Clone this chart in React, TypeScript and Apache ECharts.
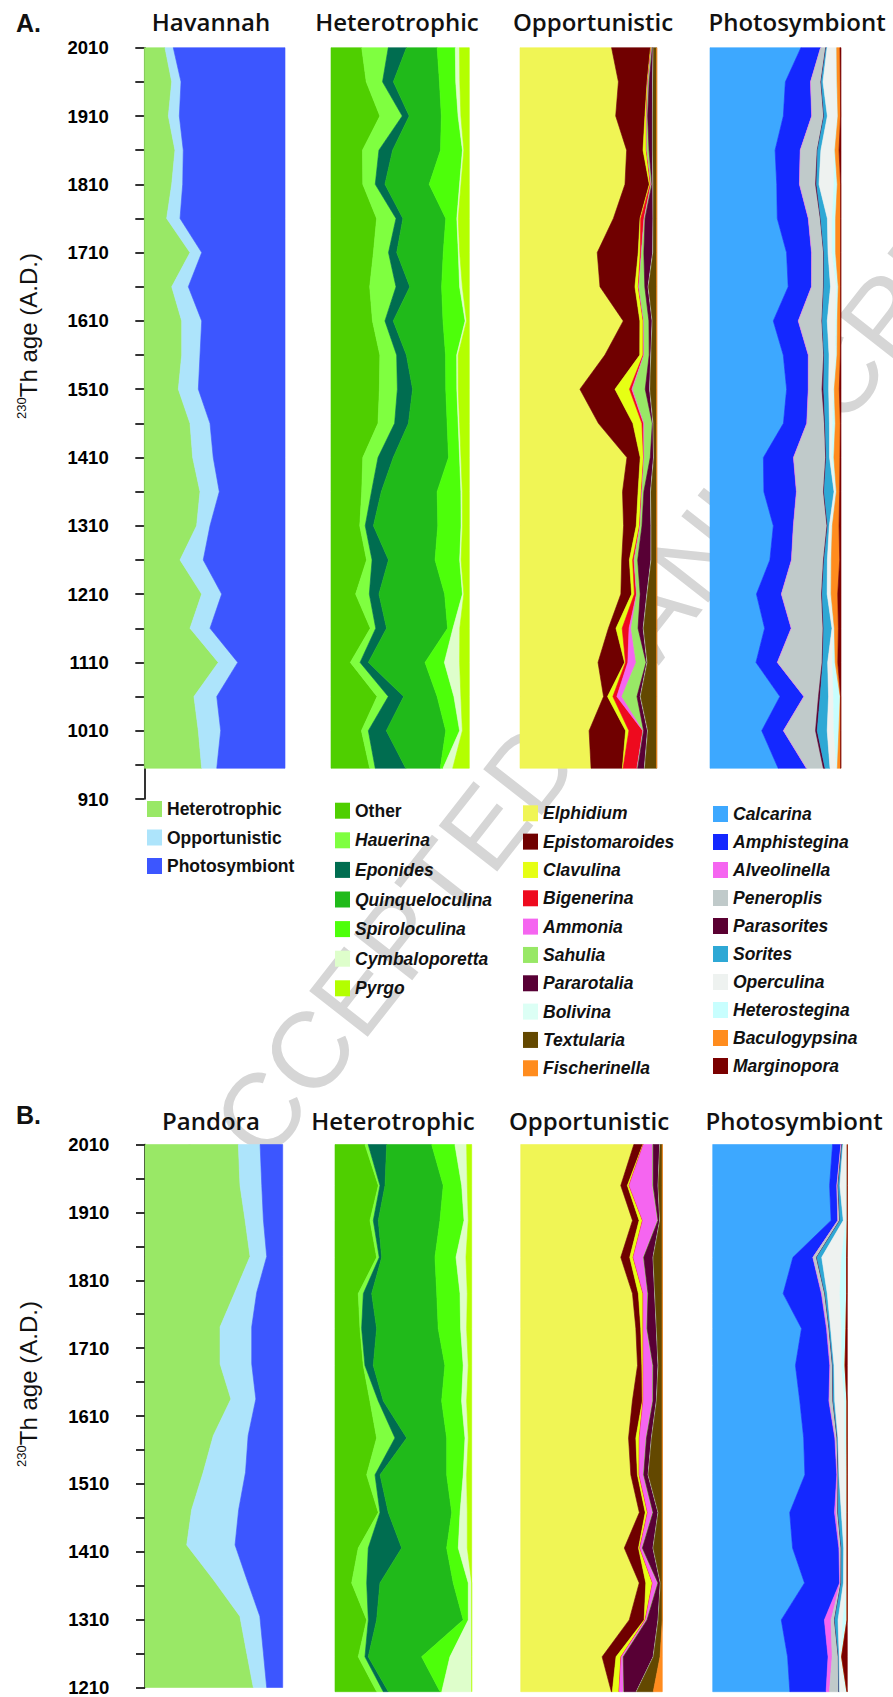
import React, { useEffect, useRef } from 'react';
import * as echarts from 'echarts';

// ---------- sample ages (A.D.) ----------
const agesA = [2010, 1960, 1910, 1860, 1810, 1760, 1710, 1660, 1610, 1560, 1510, 1460, 1410, 1360, 1310, 1260, 1210, 1160, 1110, 1060, 1010, 955];
const agesB = [2010, 1950, 1899, 1845, 1792, 1741, 1687, 1635, 1581, 1527, 1472, 1420, 1369, 1315, 1261, 1210];

// ---------- tick labels / titles ----------
const yTicksA = [910, 2010, 100];
const yTicksB = [1210, 2010, 100];
const titlesA = ['Havannah', 'Heterotrophic', 'Opportunistic', 'Photosymbiont'];
const titlesB = ['Pandora', 'Heterotrophic', 'Opportunistic', 'Photosymbiont'];

// ---------- taxa ----------
const groupTaxa = ['Heterotrophic', 'Opportunistic', 'Photosymbiont'];
const hetTaxa = ['Other', 'Hauerina', 'Eponides', 'Quinqueloculina', 'Spiroloculina', 'Cymbaloporetta', 'Pyrgo'];
const oppTaxa = ['Elphidium', 'Epistomaroides', 'Clavulina', 'Bigenerina', 'Ammonia', 'Sahulia', 'Pararotalia', 'Bolivina', 'Textularia', 'Fischerinella'];
const photoTaxa = ['Calcarina', 'Amphistegina', 'Alveolinella', 'Peneroplis', 'Parasorites', 'Sorites', 'Operculina', 'Heterostegina', 'Baculogypsina', 'Marginopora'];

const groupColors = ['#99e866', '#ade4fb', '#3c56ff'];
const hetColors = ['#4fcf00', '#7fff40', '#006d50', '#20ba1a', '#4dff0a', '#defecb', '#b3ff00'];
const oppColors = ['#f0f555', '#700000', '#e6ff14', '#ee0a1e', '#f565f0', '#98e866', '#580035', '#dcfff5', '#634800', '#ff8c1e'];
const photoColors = ['#3da8ff', '#1428ff', '#f565f0', '#c0caca', '#5a0032', '#2ea8d5', '#eef2f0', '#c8fefe', '#ff8c1e', '#7a0000'];

const watermark = 'ACCEPTED MANUSCRIPT';

// ---------- relative abundances (%), one row per sample age ----------
// Panel A: Havannah  [Heterotrophic, Opportunistic, Photosymbiont]
const havannahRows = [
  [14.7, 5.9, 79.4], [19.5, 6.6, 73.9], [17.1, 7.8, 75.1], [21.8, 5.9, 72.3], [19.5, 7.8, 72.7],
  [15.9, 9.5, 74.6], [32.5, 8.3, 59.2], [19.5, 11.8, 68.7], [26.6, 14.2, 59.2], [26.6, 13.0, 60.4],
  [24.2, 14.2, 61.6], [32.5, 14.2, 53.3], [34.4, 14.6, 51.0], [39.6, 13.7, 46.7], [37.2, 9.5, 53.3],
  [25.4, 16.5, 58.1], [40.8, 14.2, 45.0], [32.5, 14.2, 53.3], [52.6, 13.8, 33.6], [35.3, 16.2, 48.5],
  [38.4, 15.9, 45.7], [40.8, 10.7, 48.5],
];
// Panel A heterotrophic taxa
const hetRowsA = [
  [22, 19, 13, 22, 13, 3, 7], [26, 12, 8, 34, 12, 3, 7], [35, 16, 5, 23, 12, 2, 6], [23, 12, 10, 35, 16, 1, 4],
  [23, 9, 7, 32, 22, 1, 6], [33, 14, 5, 31, 8, 1, 8], [31, 11, 6, 34, 11, 1, 7], [28, 19, 10, 23, 13, 2, 5],
  [30, 9, 6, 36, 16, 1, 2], [35, 12, 7, 28, 8, 1, 8], [35, 13, 11, 24, 8, 1, 8], [34, 12, 10, 28, 8, 1, 7],
  [23, 11, 11, 40, 8, 1, 6], [22, 7, 7, 40, 17, 1, 5], [21, 4, 6, 47, 17, 1, 5], [26, 4, 12, 34, 18, 1, 6],
  [18, 10, 7, 48, 13, 1, 4], [29, 4, 8, 45, 4, 5, 7], [14, 7, 6, 41, 14, 11, 7], [33, 8, 11, 24, 12, 5, 6],
  [22, 5, 13, 43, 10, 2, 5], [28, 4, 22, 25, 2, 7, 12],
];
// Panel A opportunistic taxa
const oppRowsA = [
  [67, 28.5, 0.4, 0.2, 0.2, 0.5, 0.6, 0.2, 2.4, 0],
  [72, 21, 0.4, 0.2, 0.2, 0.7, 2.5, 0.3, 2.7, 0],
  [70, 21.4, 1, 0.3, 0.2, 0.5, 3.5, 0.3, 2.8, 0],
  [78, 12, 2.4, 0.3, 0.2, 1.5, 2.5, 0.3, 2.8, 0],
  [76.8, 17.8, 0.7, 0.5, 0.2, 0.5, 0.7, 0.3, 2.5, 0],
  [68.3, 19.5, 0.5, 2.4, 0.3, 0.5, 5.8, 0.2, 2.5, 0],
  [56.5, 30, 1.5, 0.8, 0.3, 1.5, 6.5, 0.3, 2.6, 0],
  [58.5, 25.6, 2.4, 0.3, 0.3, 4.2, 2.4, 0.3, 6, 0],
  [75.6, 12.2, 2.4, 0.3, 0.2, 3.7, 2.4, 0.2, 3.1, 0],
  [62.2, 25.6, 2.4, 0.5, 0.3, 3.7, 1.2, 0.3, 4, 0],
  [43.4, 25.4, 10.5, 1.7, 0.7, 9, 3.2, 0.3, 4.8, 0],
  [57.3, 25.2, 6.6, 1.2, 0.5, 5.9, 0.5, 0.3, 2.4, 0],
  [78, 9.7, 2.4, 0.3, 0.2, 4.4, 2.4, 0.3, 2, 0],
  [75, 11.4, 2.4, 0.3, 0.3, 1.2, 4.9, 0.3, 4.2, 0],
  [76, 9.3, 2.4, 0.3, 0.3, 1.2, 6.6, 0.3, 3.9, 0],
  [74.4, 5.6, 2.4, 1, 0.3, 2.4, 9.7, 0.3, 3.9, 0],
  [73.2, 7.8, 2, 1.5, 0.3, 2.4, 4.9, 0.3, 6.8, 0],
  [63, 5.4, 4.4, 4.9, 1.5, 4.9, 3.7, 0.3, 9.3, 0],
  [57.3, 19.5, 0.7, 1.7, 6.1, 7.3, 0.7, 0.3, 6.8, 0],
  [61, 2.9, 3.9, 2.9, 3.7, 11, 2.4, 0.3, 11.7, 0],
  [50.7, 26.8, 2.4, 10.2, 0.3, 0.3, 2.9, 0.3, 6.4, 0],
  [52.4, 23.1, 0.5, 10.2, 0.3, 0.3, 4.9, 0.3, 8.8, 0],
];
// Panel A photosymbiont taxa
const photoRowsA = [
  [70, 15.3, 0, 3.8, 0.3, 0.8, 6.9, 0.5, 2.5, 0.8],
  [57.3, 19.1, 0.3, 7.6, 0.3, 1.3, 10.2, 0.5, 2.5, 0.5],
  [56, 21.6, 0.3, 8.9, 0.3, 2.5, 7.6, 0.5, 2, 0.3],
  [49.6, 19.1, 0.3, 12.7, 0.3, 2.5, 10.2, 0.5, 3.1, 1.5],
  [50.9, 17.3, 0.3, 12, 0.8, 1.8, 11.5, 2.5, 2.5, 0.3],
  [51.4, 23.7, 0.3, 8.9, 0.3, 5.1, 3.8, 2.5, 3.8, 0.3],
  [58.5, 19.1, 0.3, 8.9, 0.3, 3.1, 3.3, 2.5, 3.8, 0.3],
  [59.8, 17.8, 0.3, 8.9, 0.3, 5.1, 4.6, 1.3, 1.8, 0.3],
  [48.4, 19.1, 0.3, 17.8, 0.3, 3.8, 6.4, 1.3, 2.5, 0.3],
  [56, 19.1, 0.3, 11.5, 0.3, 3.8, 5.1, 1, 2.5, 0.5],
  [58.5, 16.5, 0.3, 10.2, 1.3, 3.8, 3.8, 0.5, 3.8, 1.3],
  [56, 17.8, 0.3, 13.2, 0.5, 3.3, 2.5, 2, 3.8, 0.5],
  [40.7, 22.9, 0.3, 24.2, 0.5, 2.5, 1.8, 1.5, 4.6, 0.8],
  [41.2, 24.9, 0.3, 20.4, 0.5, 7.6, 1.3, 0.5, 2.5, 1],
  [48.4, 15.3, 0.3, 25.4, 0.5, 1.3, 1.8, 0.5, 5.1, 1.5],
  [45.8, 16.5, 0.3, 24.2, 0.5, 2.5, 2.5, 0.5, 6.4, 1],
  [35.6, 19.1, 0.3, 30.5, 0.5, 3.8, 2.5, 0.5, 5.1, 2.5],
  [42, 20.4, 0.3, 24.2, 0.5, 6.4, 1.3, 0.5, 3.1, 2],
  [35.6, 16.5, 0.3, 34.4, 0.5, 3.8, 3.8, 2, 2, 2.5],
  [53.4, 18.3, 0.3, 10.9, 1.3, 6.4, 3.8, 5.1, 0.3, 0.3],
  [39.4, 16.5, 0.3, 24.2, 1.3, 7.6, 5.1, 3.8, 1.3, 0.3],
  [52.2, 21.6, 0.3, 12.7, 1.3, 3.8, 5.1, 0.5, 2.5, 0.3],
];

// Panel B: Pandora [Heterotrophic, Opportunistic, Photosymbiont]
const pandoraRows = [
  [67.8, 15.8, 16.4], [69.0, 15.8, 15.2], [72.6, 13.3, 14.0], [76.3, 12.1, 11.6], [65.3, 15.9, 18.9],
  [54.5, 23.0, 22.5], [54.5, 23.0, 22.5], [62.4, 18.1, 19.5], [49.6, 25.3, 25.1], [42.3, 30.7, 27.0],
  [33.9, 34.2, 32.0], [30.3, 35.1, 34.6], [49.6, 24.4, 26.0], [68.9, 14.5, 16.6], [73.8, 12.1, 14.0],
  [78.6, 9.7, 11.6],
];
const hetRowsB = [
  [21.9, 2.4, 13.5, 32.9, 17, 8.6, 3.7], [31.7, 1.2, 3.7, 42.6, 13.5, 4.1, 3.2], [25.6, 2.4, 3.7, 45.1, 17.6, 3.1, 2.5],
  [30.5, 1.9, 1.8, 39, 15.4, 7.3, 4.2], [17, 3.7, 6.1, 47.5, 17, 5.3, 3.2], [18.3, 1.2, 11, 45.1, 16.4, 4.4, 3.7],
  [20.7, 1.2, 6.1, 52.4, 13.4, 3.7, 2.5], [25.6, 6.1, 3.7, 42.7, 14.6, 3.7, 3.7], [30.5, 13.4, 8.6, 29.3, 13.4, 2.4, 2.5],
  [23.2, 6.1, 3.7, 48.8, 12.1, 2.5, 3.7], [31.7, 1.2, 6.1, 46.4, 6.1, 5.3, 3.2], [17, 7.3, 24.4, 32.9, 8.5, 6.6, 3.2],
  [12.2, 11, 9.7, 53.6, 11, 2.5, 0], [23.2, 1.2, 6.1, 63.4, 3.7, 2.5, 0], [17, 4.9, 2.4, 39, 20.7, 15.9, 0],
  [30.5, 4.8, 3.7, 37.8, 1.2, 21.9, 0],
];
const oppRowsB = [
  [80.7, 6.4, 0.3, 0.2, 6.6, 0.3, 4.7, 0.2, 1.6, 0],
  [71.3, 4.7, 1.2, 0.2, 16.5, 0.5, 3.5, 0.2, 2.8, 0],
  [79.5, 4.7, 2.4, 0.2, 10.6, 0.3, 1.2, 0.2, 1.6, 0],
  [71.3, 6.4, 2.4, 0.2, 7.1, 0.3, 6.6, 0.2, 6.4, 0],
  [79.5, 4.2, 3.3, 0.2, 3.1, 0.3, 4.7, 0.2, 5.2, 0],
  [81.9, 3.5, 1.6, 0.2, 2.4, 0.3, 6.6, 0.2, 4, 0],
  [83, 3.1, 0.9, 0.2, 6.6, 0.3, 3.5, 0.2, 2.8, 0],
  [79.5, 7.1, 0.5, 0.2, 6.6, 0.3, 2.4, 0.2, 4, 0],
  [76.7, 5.2, 2.4, 0.2, 4.7, 0.3, 3.5, 0.2, 7.5, 0],
  [78.4, 4.7, 1.2, 0.2, 2.8, 0.3, 3.1, 0.2, 9.9, 0],
  [84.2, 4.2, 1.6, 0.2, 3.5, 0.3, 3.5, 0.2, 2.8, 0],
  [73.6, 10.1, 0.9, 0.2, 1.4, 0.3, 7.5, 0.2, 6.4, 0],
  [84.2, 4.7, 4.7, 0.2, 3.5, 0.3, 1.6, 0.2, 1.2, 0],
  [77.2, 10.6, 0.7, 0.2, 0.9, 0.3, 7.8, 0.2, 2.8, 0],
  [57.9, 9.9, 3.5, 0.2, 1.2, 0.3, 21.2, 0.2, 4.7, 1.6],
  [64.2, 0.7, 4.7, 0.2, 3.1, 0.3, 8.7, 0.2, 11.8, 6.4],
];
const photoRowsB = [
  [89.6, 6.2, 0.2, 0.5, 0.2, 0.7, 3, 0.2, 0, 0],
  [87.1, 5.4, 0.2, 0.7, 0.2, 1.2, 4.5, 1, 0, 0],
  [88.4, 5, 0.2, 1.2, 0.2, 2.5, 2, 1, 0, 0],
  [59.9, 14.9, 0.2, 2.5, 0.2, 3.7, 14.9, 3.7, 0, 0.5],
  [52.5, 28.5, 0.5, 2, 0.2, 1.7, 9.4, 5, 0, 0.5],
  [66.1, 18.6, 0.7, 1.2, 0.2, 1, 8.2, 3.2, 0, 1],
  [61.9, 25.7, 0.5, 1.5, 0.2, 1, 5.7, 2.5, 0, 1.7],
  [65.3, 21.8, 0.5, 2.5, 0.2, 1.2, 7.4, 1.7, 0, 0.3],
  [68.6, 23.5, 0.5, 1.2, 0.2, 0.5, 5, 1.7, 0, 0.3],
  [69.3, 24, 0.5, 0.5, 0.2, 0.5, 5, 1, 0, 0.2],
  [57.4, 33.4, 1.2, 1.2, 0.2, 2.5, 3.2, 1, 0, 0.2],
  [59.9, 34.7, 0.5, 1.2, 0.2, 1.7, 2, 0.5, 0, 0.2],
  [69.3, 26.5, 0.5, 0.5, 0.2, 1.7, 2.5, 0.2, 0, 0.2],
  [51.2, 32.2, 5, 2.5, 0.2, 2.5, 3.7, 3, 0, 0.2],
  [54.9, 29.7, 3, 4.5, 0.2, 0.5, 1.2, 0.5, 0, 4.2],
  [57.9, 27.2, 2.5, 6.9, 0.2, 0.5, 4.5, 1, 0, 0.3],
];

// ---------- layout ----------
const FONT = '"Liberation Sans", Arial, Helvetica, sans-serif';
const TFONT = '"Open Sans", "Liberation Sans", Arial, sans-serif';
const colsA = [[144.3, 140.7], [331, 138.3], [520, 136.7], [710, 131]];
const colsB = [[145, 137.7], [335, 136.7], [520.7, 141.6], [712.7, 134.6]];
const panelA = { top: 47.7, height: 751.3 };
const panelB = { top: 1144.5, height: 547.2 };

function toPercent(rows: number[][]) {
  return rows.map((r) => {
    const s = r.reduce((a, b) => a + b, 0);
    return r.map((v) => (v / s) * 100);
  });
}

function stackSeries(rows: number[][], ages: number[], colors: string[], idx: number) {
  const pct = toPercent(rows);
  return {
    type: 'custom',
    coordinateSystem: 'cartesian2d',
    xAxisIndex: idx,
    yAxisIndex: idx,
    silent: true,
    z: 2,
    data: colors.map((_, k) => [0, ages[0], k]),
    renderItem: (_p: any, api: any) => {
      const k = api.value(2);
      const upper: number[][] = [];
      const lower: number[][] = [];
      for (let i = 0; i < ages.length; i++) {
        let lo = 0;
        for (let j = 0; j < k; j++) lo += pct[i][j];
        upper.push(api.coord([lo + pct[i][k], ages[i]]));
        lower.push(api.coord([lo, ages[i]]));
      }
      const pts = upper.concat(lower.reverse());
      return {
        type: 'polygon',
        shape: { points: pts },
        style: { fill: colors[k], stroke: colors[k], lineWidth: 0.6 },
      };
    },
  };
}

function yAxisVisible(grid: number, ticks: number[]) {
  return {
    type: 'value', gridIndex: grid, min: ticks[0], max: ticks[1], interval: ticks[2],
    position: 'left', offset: 16.6,
    axisLine: { show: true, lineStyle: { color: '#000', width: 1.6 } },
    axisTick: { show: true, length: 9, lineStyle: { color: '#000', width: 1.6 } },
    minorTick: { show: true, splitNumber: 2, length: 9, lineStyle: { color: '#000', width: 1.6 } },
    axisLabel: {
      margin: 19, color: '#000', fontFamily: FONT, fontWeight: 'bold', fontSize: 18.5,
      showMinLabel: true, showMaxLabel: true, formatter: (v: number) => String(v),
    },
    splitLine: { show: false }, minorSplitLine: { show: false },
  };
}
function yAxisHidden(grid: number, ticks: number[]) {
  return { type: 'value', gridIndex: grid, min: ticks[0], max: ticks[1], show: false, splitLine: { show: false } };
}

function txt(x: number, y: number, text: string, font: string, align = 'left', extra: any = {}) {
  return {
    type: 'text', x, y, z: 10, ...extra,
    style: { text, font, fill: '#111', align, textAlign: align, verticalAlign: 'middle', textVerticalAlign: 'middle' },
  };
}

function legend(names: string[], colors: string[], x0: number, y0: number, dy: number, italic: boolean) {
  const out: any[] = [];
  names.forEach((n, i) => {
    const y = y0 + i * dy;
    out.push({ type: 'rect', z: 10, shape: { x: x0, y: y - 8, width: 15, height: 16 }, style: { fill: colors[i] } });
    const it = italic && n !== 'Other' ? 'italic ' : '';
    out.push(txt(x0 + 20, y, n, `${it}bold 17.5px ${FONT}`));
  });
  return out;
}

function yName(y: number) {
  return {
    type: 'text', x: 28, y, z: 10, rotation: Math.PI / 2,
    style: {
      text: '{s|230}{m|Th age (A.D.)}',
      align: 'center', textAlign: 'center', verticalAlign: 'middle', textVerticalAlign: 'middle',
      rich: {
        s: { fontSize: 13, fontFamily: FONT, fill: '#111', verticalAlign: 'top', lineHeight: 26 },
        m: { fontSize: 24, fontFamily: FONT, fill: '#111', lineHeight: 26 },
      },
    },
  };
}

function buildOption() {
  const grids: any[] = [];
  const xAxes: any[] = [];
  const yAxes: any[] = [];
  colsA.forEach(([l, w], i) => {
    grids.push({ left: l, top: panelA.top, width: w, height: panelA.height });
    xAxes.push({ type: 'value', gridIndex: i, min: 0, max: 100, show: false });
    yAxes.push(i === 0 ? yAxisVisible(i, yTicksA) : yAxisHidden(i, yTicksA));
  });
  colsB.forEach(([l, w], i) => {
    const g = i + 4;
    grids.push({ left: l, top: panelB.top, width: w, height: panelB.height });
    xAxes.push({ type: 'value', gridIndex: g, min: 0, max: 100, show: false });
    yAxes.push(i === 0 ? yAxisVisible(g, yTicksB) : yAxisHidden(g, yTicksB));
  });

  const series = [
    stackSeries(havannahRows, agesA, groupColors, 0),
    stackSeries(hetRowsA, agesA, hetColors, 1),
    stackSeries(oppRowsA, agesA, oppColors, 2),
    stackSeries(photoRowsA, agesA, photoColors, 3),
    stackSeries(pandoraRows, agesB, groupColors, 4),
    stackSeries(hetRowsB, agesB, hetColors, 5),
    stackSeries(oppRowsB, agesB, oppColors, 6),
    stackSeries(photoRowsB, agesB, photoColors, 7),
  ];

  const titleCx = [211, 397, 593, 797];
  const titleCxB = [211, 393, 589, 794];
  const graphic: any[] = [
    {
      type: 'text', x: 603, y: 676, z: -5, rotation: 0.906, silent: true,
      style: {
        text: watermark, font: `108px ${FONT}`, fill: '#d6d6d6',
        align: 'center', textAlign: 'center', verticalAlign: 'middle', textVerticalAlign: 'middle',
      },
    },
    txt(16, 23, 'A.', `bold 25px ${FONT}`),
    txt(16, 1114.5, 'B.', `bold 25px ${FONT}`),
    ...titlesA.map((t, i) => txt(titleCx[i], 21, t, `600 24px ${TFONT}`, 'center')),
    ...titlesB.map((t, i) => txt(titleCxB[i], 1120.5, t, `600 24px ${TFONT}`, 'center')),
    yName(336),
    yName(1384),
    ...legend(groupTaxa, groupColors, 147, 809, 28.5, false),
    ...legend(hetTaxa, hetColors, 335, 810.7, 29.6, true),
    ...legend(oppTaxa, oppColors, 523, 813.3, 28.33, true),
    ...legend(photoTaxa, photoColors, 713, 814, 28.0, true),
  ];

  return { animation: false, backgroundColor: '#fff', grid: grids, xAxis: xAxes, yAxis: yAxes, series, graphic };
}

export default function App() {
  const ref = useRef<HTMLDivElement>(null);
  useEffect(() => {
    document.body.style.margin = '0';
    document.body.style.overflow = 'hidden';
    const chart = echarts.init(ref.current as HTMLDivElement, null, { renderer: 'svg' });
    chart.setOption(buildOption() as any);
    return () => chart.dispose();
  }, []);
  return <div ref={ref} style={{ width: 893, height: 1697 }} />;
}
